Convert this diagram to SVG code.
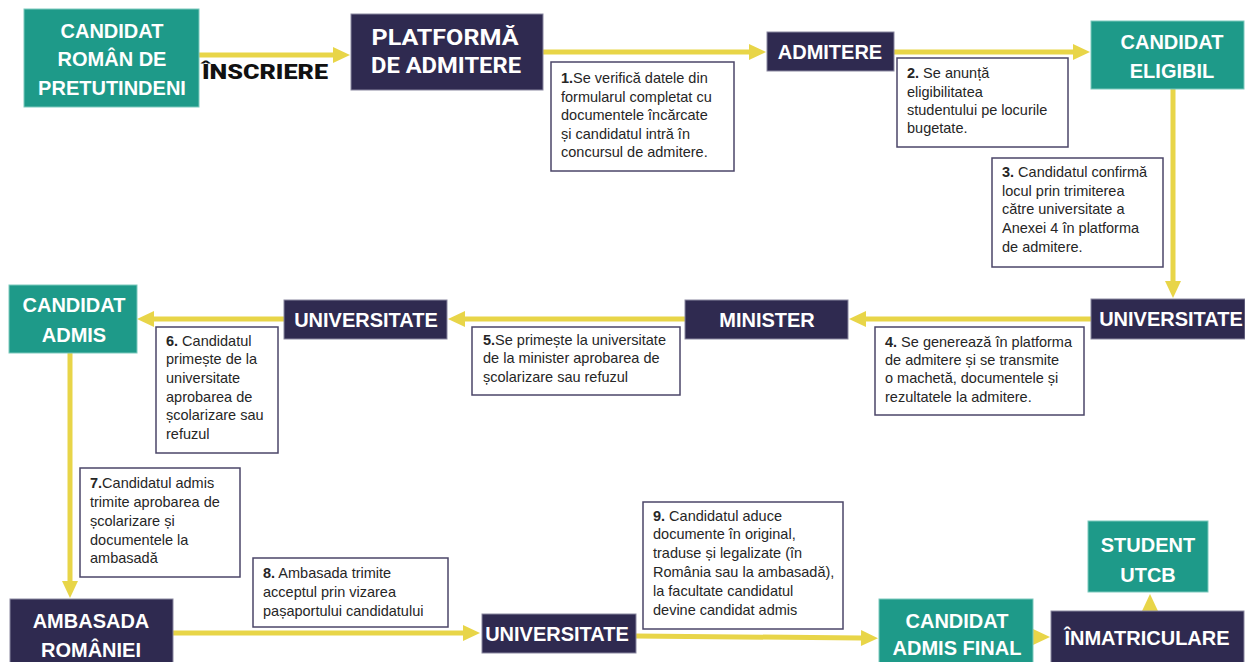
<svg xmlns="http://www.w3.org/2000/svg" width="1245" height="662" viewBox="0 0 1245 662">
<style>
.teal{fill:#1e9a89;stroke:#7cc9bd;stroke-width:1}
.navy{fill:#2f2a50;stroke:#8a87a0;stroke-width:1}
.note{fill:#ffffff;stroke:#4b4668;stroke-width:1.5}
.lbl{font-family:"Liberation Sans",Arial,sans-serif;font-weight:bold;font-size:20px;fill:#ffffff;text-anchor:middle}
.rob{font-family:Roboto,"Liberation Sans",sans-serif;font-weight:bold;font-size:22.5px;fill:#ffffff;text-anchor:middle}
.nt{font-family:"Liberation Sans",Arial,sans-serif;font-size:14.5px;fill:#262626}
.nt tspan.b{font-weight:bold}
.conn{fill:none;stroke:#e8d548;stroke-width:5}
</style>
<defs>
<marker id="ah" markerUnits="userSpaceOnUse" markerWidth="17" markerHeight="16" refX="0" refY="8" orient="auto" overflow="visible">
<path d="M0,0 L17,8 L0,16 z" fill="#e8d548"/>
</marker>
</defs>
<rect width="1245" height="662" fill="#ffffff"/>

<g id="connectors">
<path class="conn" d="M199,55 H333" marker-end="url(#ah)"/>
<path class="conn" d="M543,52 H749" marker-end="url(#ah)"/>
<path class="conn" d="M894,52 H1073" marker-end="url(#ah)"/>
<path class="conn" d="M1173,89 V281" marker-end="url(#ah)"/>
<path class="conn" d="M1091,319 H866" marker-end="url(#ah)"/>
<path class="conn" d="M685,319 H465" marker-end="url(#ah)"/>
<path class="conn" d="M284,319 H154" marker-end="url(#ah)"/>
<path class="conn" d="M70,353 V581" marker-end="url(#ah)"/>
<path class="conn" d="M173,633 H463" marker-end="url(#ah)"/>
<path class="conn" d="M636,636 L861,638" marker-end="url(#ah)"/>
<polygon points="1033,629 1050,637 1033,645" fill="#e8d548"/>
<polygon points="1142,611 1150,594 1158,611" fill="#e8d548"/>
</g>

<text x="265" y="79" font-family="Roboto,'Liberation Sans',sans-serif" font-weight="900" font-size="21" fill="#111111" text-anchor="middle" textLength="126" lengthAdjust="spacingAndGlyphs">ÎNSCRIERE</text>

<g id="n-candidat-roman">
<rect class="teal" x="24" y="9" width="175" height="98"/>
<text class="lbl" x="112" y="38">CANDIDAT</text>
<text class="lbl" x="112" y="66">ROMÂN DE</text>
<text class="lbl" x="112" y="95">PRETUTINDENI</text>
</g>

<g id="n-platforma">
<rect class="navy" x="351" y="14" width="192" height="76"/>
<text class="rob" x="445" y="45" textLength="147" lengthAdjust="spacingAndGlyphs">PLATFORMĂ</text>
<text class="rob" x="446" y="73" textLength="150" lengthAdjust="spacingAndGlyphs">DE ADMITERE</text>
</g>

<g id="n-admitere">
<rect class="navy" x="767" y="32" width="127" height="39"/>
<text class="lbl" x="830" y="59">ADMITERE</text>
</g>

<g id="n-eligibil">
<rect class="teal" x="1091" y="21" width="153" height="68"/>
<text class="lbl" x="1172" y="49">CANDIDAT</text>
<text class="lbl" x="1172" y="78">ELIGIBIL</text>
</g>

<g id="n-univ1">
<rect class="navy" x="1091" y="299" width="154" height="40"/>
<text class="lbl" x="1171" y="326">UNIVERSITATE</text>
</g>

<g id="n-minister">
<rect class="navy" x="685" y="300" width="163" height="39"/>
<text class="lbl" x="767" y="327">MINISTER</text>
</g>

<g id="n-univ2">
<rect class="navy" x="284" y="300" width="163" height="39"/>
<text class="lbl" x="366" y="327">UNIVERSITATE</text>
</g>

<g id="n-admis">
<rect class="teal" x="9" y="285" width="128" height="68"/>
<text class="lbl" x="74" y="312">CANDIDAT</text>
<text class="lbl" x="74" y="342">ADMIS</text>
</g>

<g id="n-ambasada">
<rect class="navy" x="10" y="599" width="163" height="70"/>
<text class="lbl" x="91" y="628">AMBASADA</text>
<text class="lbl" x="91" y="657">ROMÂNIEI</text>
</g>

<g id="n-univ3">
<rect class="navy" x="482" y="614" width="154" height="39"/>
<text class="lbl" x="557" y="641">UNIVERSITATE</text>
</g>

<g id="n-final">
<rect class="teal" x="879" y="599" width="154" height="70"/>
<text class="lbl" x="957" y="628">CANDIDAT</text>
<text class="lbl" x="957" y="655">ADMIS FINAL</text>
</g>

<g id="n-inmatriculare">
<rect class="navy" x="1051" y="611" width="193" height="58"/>
<text class="lbl" x="1147" y="645">ÎNMATRICULARE</text>
</g>

<g id="n-student">
<rect class="teal" x="1088" y="521" width="120" height="71"/>
<text class="lbl" x="1148" y="552">STUDENT</text>
<text class="lbl" x="1148" y="582">UTCB</text>
</g>

<g id="note1">
<rect class="note" x="551" y="62" width="183" height="109"/>
<text class="nt" x="561" y="83"><tspan class="b">1.</tspan>Se verifică datele din</text>
<text class="nt" x="561" y="101.5">formularul completat cu</text>
<text class="nt" x="561" y="120">documentele încărcate</text>
<text class="nt" x="561" y="138.5">și candidatul intră în</text>
<text class="nt" x="561" y="157">concursul de admitere.</text>
</g>

<g id="note2">
<rect class="note" x="897" y="58" width="171" height="89"/>
<text class="nt" x="907" y="78"><tspan class="b">2.</tspan> Se anunță</text>
<text class="nt" x="907" y="97">eligibilitatea</text>
<text class="nt" x="907" y="115">studentului pe locurile</text>
<text class="nt" x="907" y="133">bugetate.</text>
</g>

<g id="note3">
<rect class="note" x="992" y="158" width="171" height="109"/>
<text class="nt" x="1002" y="177"><tspan class="b">3.</tspan> Candidatul confirmă</text>
<text class="nt" x="1002" y="196">locul prin trimiterea</text>
<text class="nt" x="1002" y="214">către universitate a</text>
<text class="nt" x="1002" y="233">Anexei 4 în platforma</text>
<text class="nt" x="1002" y="252">de admitere.</text>
</g>

<g id="note4">
<rect class="note" x="875" y="327" width="209" height="88"/>
<text class="nt" x="885" y="347"><tspan class="b">4.</tspan> Se generează în platforma</text>
<text class="nt" x="885" y="365">de admitere și se transmite</text>
<text class="nt" x="885" y="383">o machetă, documentele și</text>
<text class="nt" x="885" y="402">rezultatele la admitere.</text>
</g>

<g id="note5">
<rect class="note" x="472" y="327" width="208" height="68"/>
<text class="nt" x="483" y="345"><tspan class="b">5.</tspan>Se primește la universitate</text>
<text class="nt" x="483" y="363">de la minister aprobarea de</text>
<text class="nt" x="483" y="382">școlarizare sau refuzul</text>
</g>

<g id="note6">
<rect class="note" x="156" y="327" width="122" height="126"/>
<text class="nt" x="166" y="346"><tspan class="b">6.</tspan> Candidatul</text>
<text class="nt" x="166" y="364">primește de la</text>
<text class="nt" x="166" y="383">universitate</text>
<text class="nt" x="166" y="402">aprobarea de</text>
<text class="nt" x="166" y="420">școlarizare sau</text>
<text class="nt" x="166" y="439">refuzul</text>
</g>

<g id="note7">
<rect class="note" x="80" y="468" width="160" height="109"/>
<text class="nt" x="90" y="488"><tspan class="b">7.</tspan>Candidatul admis</text>
<text class="nt" x="90" y="507">trimite aprobarea de</text>
<text class="nt" x="90" y="526">școlarizare și</text>
<text class="nt" x="90" y="545">documentele la</text>
<text class="nt" x="90" y="563">ambasadă</text>
</g>

<g id="note8">
<rect class="note" x="253" y="558" width="195" height="69"/>
<text class="nt" x="263" y="578"><tspan class="b">8.</tspan> Ambasada trimite</text>
<text class="nt" x="263" y="597">acceptul prin vizarea</text>
<text class="nt" x="263" y="616">pașaportului candidatului</text>
</g>

<g id="note9">
<rect class="note" x="643" y="502" width="200" height="127"/>
<text class="nt" x="653" y="521"><tspan class="b">9.</tspan> Candidatul aduce</text>
<text class="nt" x="653" y="539">documente în original,</text>
<text class="nt" x="653" y="558">traduse și legalizate (în</text>
<text class="nt" x="653" y="577">România sau la ambasadă),</text>
<text class="nt" x="653" y="596">la facultate candidatul</text>
<text class="nt" x="653" y="615">devine candidat admis</text>
</g>
</svg>
